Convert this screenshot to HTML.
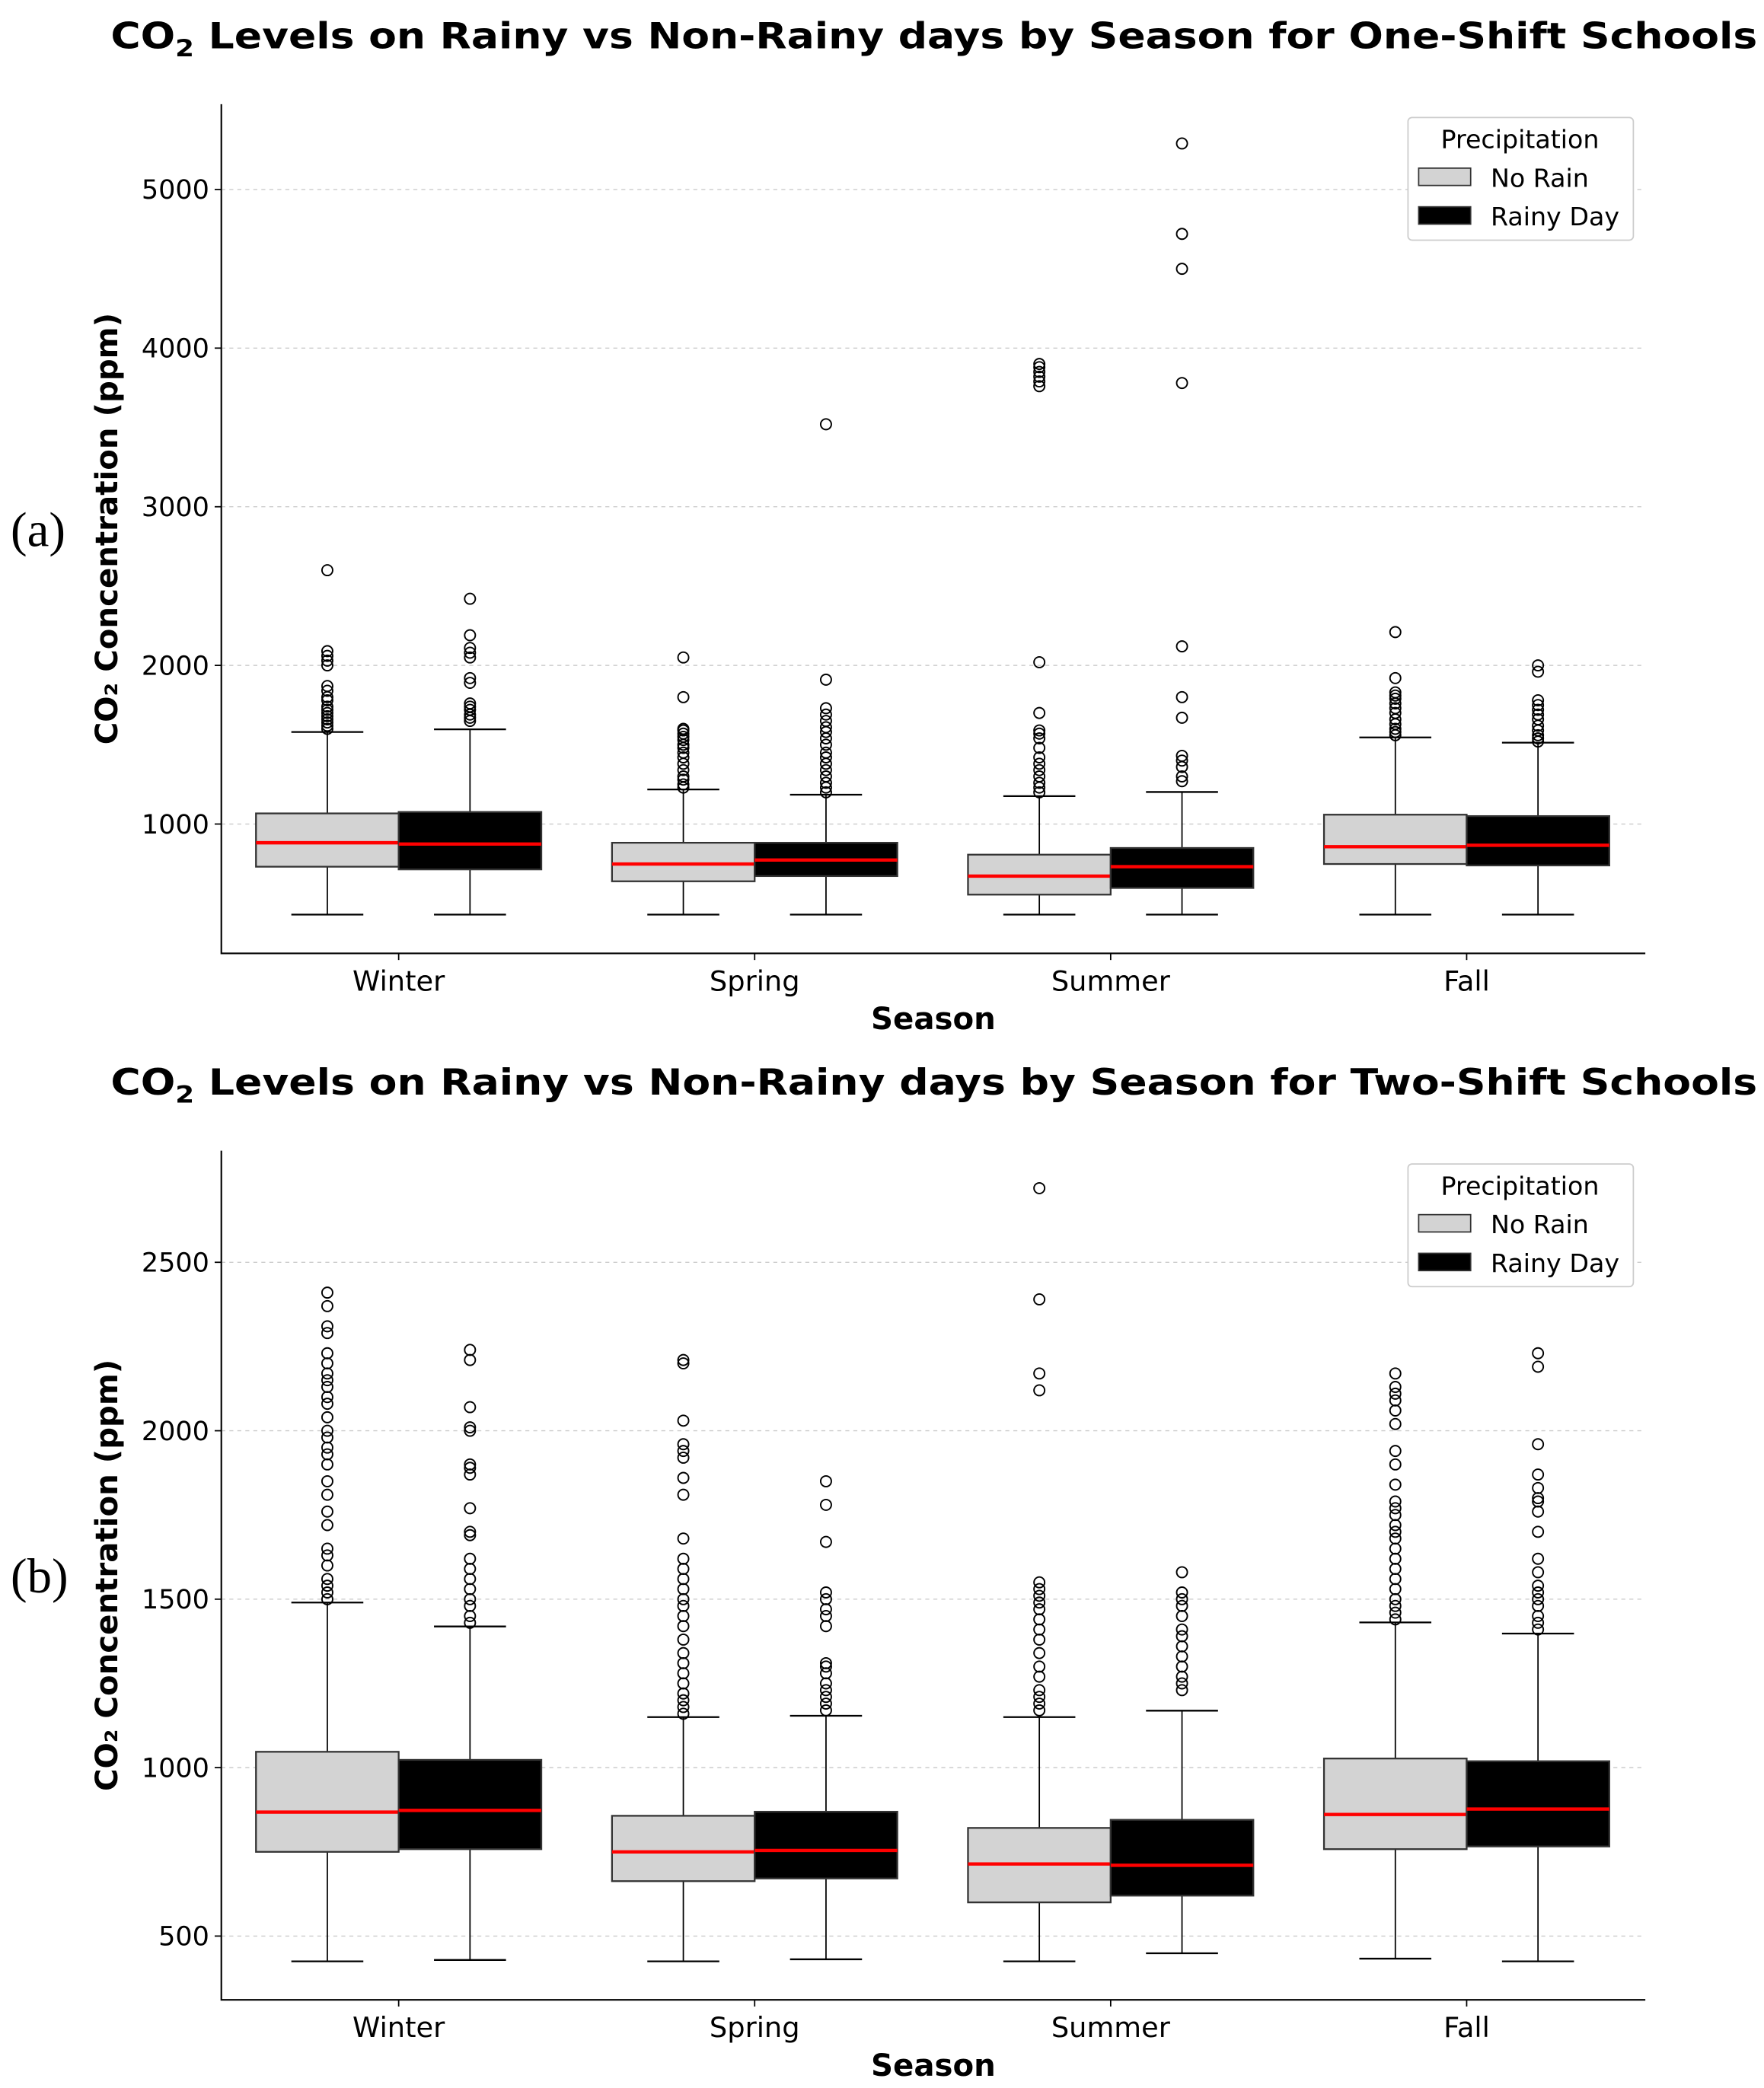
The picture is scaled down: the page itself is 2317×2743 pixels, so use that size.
<!DOCTYPE html>
<html><head><meta charset="utf-8"><style>
html,body{margin:0;padding:0;background:#fff;}
svg{display:block;}
</style></head><body>
<svg id="fig" width="2317" height="2743" viewBox="0 0 1323 1566" xmlns="http://www.w3.org/2000/svg" font-family="'DejaVu Sans','Liberation Sans',sans-serif"></svg>
<script>
const seasons = ["Winter","Spring","Summer","Fall"];
const groups = ["No Rain","Rainy Day"];
// panel A stats per season: [noRain, rainy] -> [low, q1, med, q3, high]
const statsA = [
 [[429,731,882,1067,1580],[429,714,874,1076,1597]],
 [[429,639,748,882,1218],[429,672,773,882,1185]],
 [[429,555,672,807,1176],[429,597,731,849,1202]],
 [[429,748,857,1059,1546],[429,739,866,1050,1513]]
];
const outliersA = [
 [[1600,1620,1640,1660,1680,1700,1720,1740,1780,1800,1840,1870,2000,2030,2060,2090,2600],[1650,1670,1690,1720,1740,1760,1890,1920,2050,2080,2110,2190,2420]],
 [[1230,1250,1280,1300,1340,1380,1420,1450,1480,1500,1530,1550,1570,1590,1600,1800,2050],[1200,1230,1260,1300,1340,1380,1420,1450,1500,1540,1580,1610,1650,1690,1730,1910,3520]],
 [[1200,1230,1260,1300,1340,1380,1420,1480,1540,1570,1590,1700,2020,3760,3790,3820,3850,3880,3900],[1270,1300,1360,1400,1430,1670,1800,2120,3780,4500,4720,5290]],
 [[1560,1580,1600,1630,1660,1700,1730,1760,1790,1810,1830,1920,2210],[1520,1540,1560,1590,1620,1660,1690,1720,1750,1780,1960,2000]]
];
const statsB = [
 [[425,750,868,1047,1490],[429,758,873,1023,1419]],
 [[425,663,750,857,1150],[431,671,754,869,1154]],
 [[425,600,714,821,1150],[449,620,710,845,1169]],
 [[433,758,861,1027,1431],[425,766,877,1019,1398]]
];
const outliersB = [
 [[1500,1520,1540,1560,1600,1630,1650,1720,1760,1810,1850,1900,1930,1950,1980,2000,2040,2080,2100,2130,2150,2170,2200,2230,2290,2310,2370,2410],[1430,1450,1480,1500,1530,1560,1590,1620,1690,1700,1770,1870,1890,1900,2000,2010,2070,2210,2240]],
 [[1160,1180,1200,1220,1250,1280,1310,1340,1380,1420,1450,1480,1500,1530,1560,1590,1620,1680,1810,1860,1920,1940,1960,2030,2200,2210],[1170,1190,1210,1230,1250,1280,1300,1310,1420,1450,1470,1500,1520,1670,1780,1850]],
 [[1170,1190,1210,1230,1270,1300,1340,1380,1410,1440,1470,1490,1510,1530,1550,2120,2170,2390,2720],[1230,1250,1270,1300,1330,1360,1390,1410,1450,1480,1500,1520,1580]],
 [[1440,1460,1480,1500,1530,1560,1590,1620,1650,1680,1700,1720,1750,1770,1790,1840,1900,1940,2020,2060,2090,2110,2130,2170],[1410,1430,1450,1480,1500,1520,1540,1580,1620,1700,1760,1790,1800,1830,1870,1960,2190,2230]]
];
const ticksA = [1000,2000,3000,4000,5000];
const ticksB = [500,1000,1500,2000,2500];

const NS="http://www.w3.org/2000/svg";
const svg=document.getElementById('fig');
function el(tag,attrs,parent,text){const e=document.createElementNS(NS,tag);for(const k in attrs)e.setAttribute(k,attrs[k]);if(text!==undefined)e.textContent=text;(parent||svg).appendChild(e);return e;}

function panel(cfg){
  const g=el('g',{});
  
  
  const L=166,R=1234,T=cfg.top,B=cfg.bottom;
  const y=v=>cfg.y0-(v)*cfg.k;
  const xc=i=>299+i*267;
  // title
  const t=el('text',{x:83,y:cfg.titleY,'font-weight':'bold','font-size':27,textLength:1235,lengthAdjust:'spacingAndGlyphs'},g);
  
  el('tspan',{},t,'CO');el('tspan',{'font-size':18,dy:6},t,'2');el('tspan',{dy:-6},t,' Levels on Rainy vs Non-Rainy days by Season for '+cfg.label+' Schools');
  // grid + ticks
  cfg.ticks.forEach(v=>{
    const gl=el('line',{x1:L,x2:R,y1:y(v),y2:y(v),stroke:'#ccc','stroke-width':0.8,'stroke-dasharray':'3,3'},g);
    
    el('line',{x1:L-5,x2:L,y1:y(v),y2:y(v),stroke:'#000','stroke-width':1},g);
    const tl=el('text',{x:L-9,y:y(v)+7,'text-anchor':'end','font-size':20},g,String(v));
    
  });
  // axes
  const ax=el('path',{d:`M${L},${T}V${B}H${R}`,fill:'none',stroke:'#000','stroke-width':1.2},g);
  
  seasons.forEach((s,i)=>{
    el('line',{x1:xc(i),x2:xc(i),y1:B,y2:B+5,stroke:'#000'},g);
    const xl=el('text',{x:xc(i),y:B+28,'text-anchor':'middle','font-size':21},g,s);
    
    for(let j=0;j<2;j++){
      const st=cfg.stats[i][j];
      const x0=xc(i)-107+j*107, cx=x0+53.5;
      const bg=el('g',{},g);
      
      
      el('line',{x1:cx,x2:cx,y1:y(st[0]),y2:y(st[1]),stroke:'#000','stroke-width':1},bg);
      el('line',{x1:cx,x2:cx,y1:y(st[3]),y2:y(st[4]),stroke:'#000','stroke-width':1},bg);
      el('line',{x1:cx-27,x2:cx+27,y1:y(st[0]),y2:y(st[0]),stroke:'#000','stroke-width':1.3},bg);
      el('line',{x1:cx-27,x2:cx+27,y1:y(st[4]),y2:y(st[4]),stroke:'#000','stroke-width':1.3},bg);
      el('rect',{x:x0,y:y(st[3]),width:107,height:y(st[1])-y(st[3]),fill:j?'#000':'#d3d3d3',stroke:'#333','stroke-width':1.3},bg);
      el('line',{x1:x0,x2:x0+107,y1:y(st[2]),y2:y(st[2]),stroke:'#ff0000','stroke-width':2.5},bg);
      cfg.out[i][j].forEach(v=>{
        const c=el('circle',{cx:cx,cy:y(v),r:4,fill:'none',stroke:'#000','stroke-width':1.1},bg);
        
      });
    }
  });
  const xt=el('text',{x:700,y:B+57,'text-anchor':'middle','font-weight':'bold','font-size':23},g,'Season');
  
  const ym=(T+B)/2;
  const yt=el('text',{x:0,y:0,'text-anchor':'middle','font-weight':'bold','font-size':23,transform:`translate(88,${ym}) rotate(-90)`},g,'CO\u2082 Concentration (ppm)');
  
  const pl=el('text',{x:8,y:ym+13,'font-family':"'Liberation Serif',serif",'font-size':37},g,cfg.letter);
  
  // legend
  const lg=el('g',{},g);
  
  const ly=T+10;
  el('rect',{x:1056,y:ly,width:169,height:92,rx:3,fill:'#fff',stroke:'#ccc','stroke-width':1},lg);
  el('text',{x:1140,y:ly+23,'text-anchor':'middle','font-size':19},lg,'Precipitation');
  groups.forEach((n,j)=>{
    const e=el('g',{},lg);
    
    el('rect',{x:1064,y:ly+38+j*29,width:39,height:13,fill:j?'#000':'#d3d3d3',stroke:'#333','stroke-width':1},e);
    el('text',{x:1118,y:ly+52+j*29,'font-size':19},e,n);
  });
}
panel({name:'panel-a-one-shift',label:'One-Shift',letter:'(a)',titleY:36,top:78,bottom:715,y0:737,k:0.119,ticks:ticksA,stats:statsA,out:outliersA});
panel({name:'panel-b-two-shift',label:'Two-Shift',letter:'(b)',titleY:821,top:863,bottom:1500,y0:1578.5,k:0.2527,ticks:ticksB,stats:statsB,out:outliersB});
</script>
</body></html>
